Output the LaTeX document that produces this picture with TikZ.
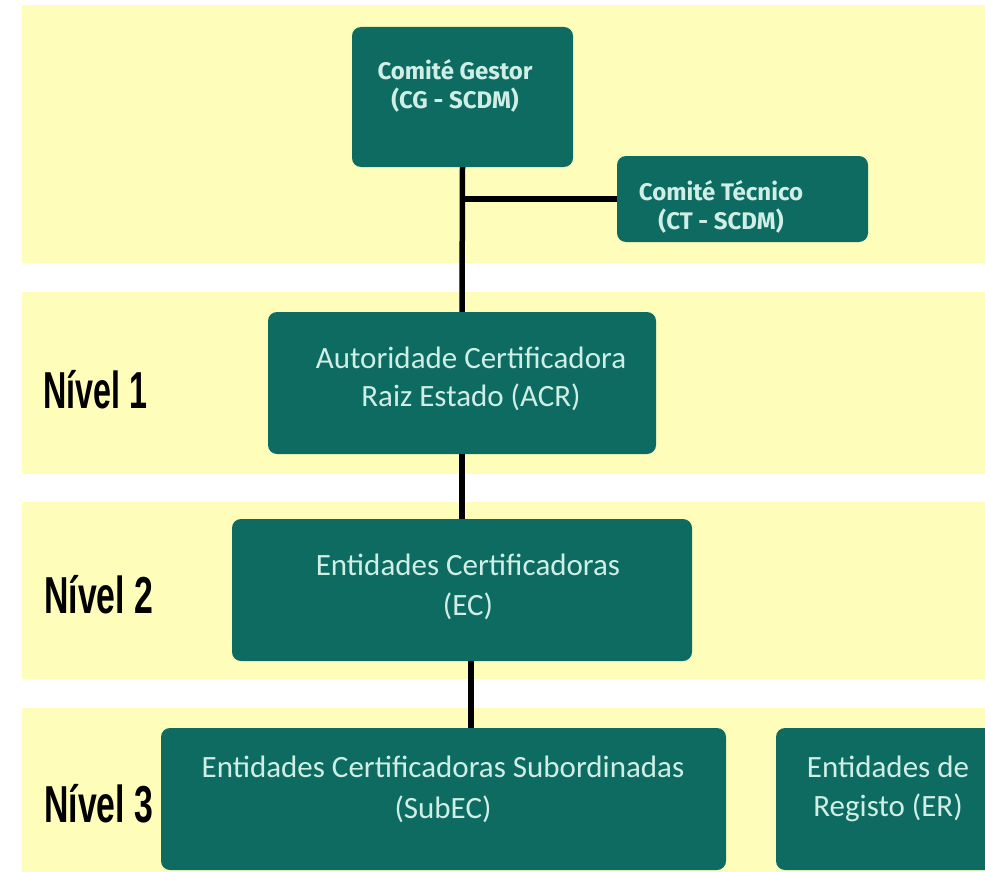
\documentclass[tikz,border=0pt]{standalone}
\usepackage{fontspec}
\usepackage{graphicx}
\setmainfont{Carlito}
\newfontfamily\topfont{Fira Sans}
\newfontfamily\levelfont{Liberation Sans}
\definecolor{band}{HTML}{FFFDBA}
\definecolor{boxteal}{HTML}{0D6B61}
\definecolor{boxtext}{HTML}{CFEFE6}
\tikzset{
  bandbox/.style={fill=band, draw=none},
  orgbox/.style={fill=boxteal, draw=none, rounded corners=9pt, inner sep=0pt},
  toptxt/.style={text=boxtext, align=center, inner sep=0pt, font=\topfont\bfseries\fontsize{24}{29}\selectfont},
  lowtxt/.style={text=boxtext, align=center, inner sep=0pt, font=\fontsize{31}{40}\selectfont},
  leveltxt/.style={anchor=base west, inner sep=0pt, text=black, font=\levelfont\bfseries\fontsize{52}{60}\selectfont},
  link/.style={draw=black, line width=5.5pt}
}
\begin{document}
\begin{tikzpicture}[x=1pt, y=-1pt]
\useasboundingbox (0,0) rectangle (985,872);
\clip (0,0) rectangle (985,872);
% bands
\fill[bandbox] (22,5) rectangle (985,263);
\fill[bandbox] (22,292) rectangle (985,474);
\fill[bandbox] (22,502) rectangle (985,679);
\fill[bandbox] (22,708) rectangle (985,872);
% boxes
\node[orgbox, minimum width=221pt, minimum height=140pt] (cg) at (462.5,97) {};
\node[orgbox, minimum width=251pt, minimum height=86pt] (ct) at (742.5,199) {};
\node[orgbox, minimum width=388pt, minimum height=142pt] (acr) at (462,383) {};
\node[orgbox, minimum width=460pt, minimum height=142pt] (ec) at (462,590) {};
\node[orgbox, minimum width=565pt, minimum height=142pt] (subec) at (443.5,799) {};
\node[orgbox, minimum width=224pt, minimum height=142pt] (er) at (888,799) {};
% texts
\node[toptxt] (cgt) at (455,86) {Comité Gestor\\(CG - SCDM)};
\node[toptxt] (ctt) at (721,207) {Comité Técnico\\(CT - SCDM)};
\node[lowtxt, font=\fontsize{31}{38}\selectfont] (acrt) at (471,379) {Autoridade Certificadora\\Raiz Estado (ACR)};
\node[lowtxt] (ect) at (468,587) {Entidades Certificadoras\\(EC)};
\node[lowtxt, font=\fontsize{31}{41}\selectfont] (subect) at (443,789) {Entidades Certificadoras Subordinadas\\(SubEC)};
\node[lowtxt, font=\fontsize{31}{39}\selectfont] (ert) at (888,789) {Entidades de\\Registo (ER)};
% level labels
\node[leveltxt] (n1) at (43,408) {\scalebox{0.62}[1]{Nível 1}};
\node[leveltxt] (n2) at (44,613) {\scalebox{0.65}[1]{Nível 2}};
\node[leveltxt] (n3) at (44,822) {\scalebox{0.65}[1]{Nível 3}};
% connectors
\draw[link] (cg.south) -- (acr.north);
\draw[link] (cg.south |- ct.west) -- (ct.west);
\draw[link] (acr.south) -- (ec.north);
\draw[link] ([xshift=9pt]ec.south) -- ([xshift=9pt]ec.south |- subec.north);
\end{tikzpicture}
\end{document}
